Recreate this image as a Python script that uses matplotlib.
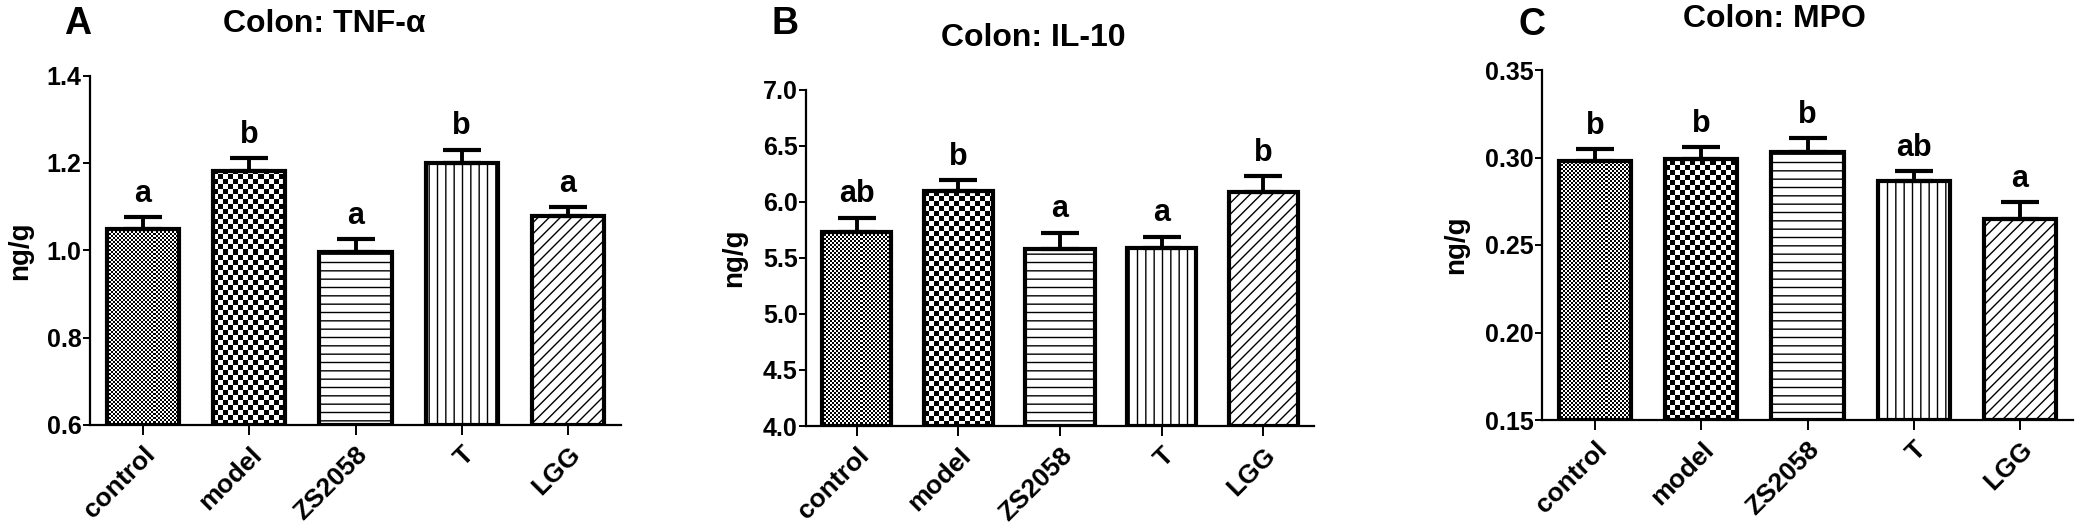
import numpy as np
import matplotlib
matplotlib.use('Agg')
from matplotlib import pyplot as plt

# groups and values
groups = ['control', 'model', 'ZS2058', 'T', 'LGG']

tnf_mean = [1.048, 1.182, 0.996, 1.200, 1.078]
tnf_sem = [0.027, 0.029, 0.029, 0.030, 0.021]
tnf_letters = ['a', 'b', 'a', 'b', 'a']
tnf_ticks = [0.6, 0.8, 1.0, 1.2, 1.4]

il10_mean = [5.729, 6.094, 5.582, 5.588, 6.082]
il10_sem = [0.128, 0.098, 0.143, 0.100, 0.146]
il10_letters = ['ab', 'b', 'a', 'a', 'b']
il10_ticks = [4.0, 4.5, 5.0, 5.5, 6.0, 6.5, 7.0]

mpo_mean = [0.2979, 0.2990, 0.3030, 0.2866, 0.2647]
mpo_sem = [0.0070, 0.0070, 0.0080, 0.0056, 0.0097]
mpo_letters = ['b', 'b', 'b', 'ab', 'a']
mpo_ticks = [0.15, 0.20, 0.25, 0.30, 0.35]

plt.rcParams['font.family'] = ['Liberation Sans', 'DejaVu Sans']
plt.rcParams['font.weight'] = 'bold'
plt.rcParams['hatch.linewidth'] = 1.0

W, H = 2076, 530
fig = plt.figure(figsize=(W / 100, H / 100), dpi=100)

# hatch per group; None means a checkerboard image (cell, dot size in px)
hatches = [None, None, '--', '||', '///']
checker = [(2, 2), (5, 5), None, None, None]


def checker_fill(ax, bar, cell, dot):
    x0, y0 = bar.get_x(), bar.get_y()
    x1, y1 = x0 + bar.get_width(), y0 + bar.get_height()
    (px0, py0), (px1, py1) = ax.transData.transform([(x0, y0), (x1, y1)])
    nx = int(np.ceil(px1 - px0)) + 2
    ny = int(np.ceil(py1 - py0)) + 2
    jj, ii = np.meshgrid(np.arange(nx), np.arange(ny))
    on = ((ii // cell + jj // cell) % 2 == 0) & (ii % cell < dot) & (jj % cell < dot)
    grid = np.where(on, 0, 1)
    ex, ey = ax.transData.inverted().transform((px0 + nx, py0 + ny))
    im = ax.imshow(grid, cmap='gray', vmin=0, vmax=1, extent=(x0, ex, y0, ey),
                   origin='lower', interpolation='nearest', aspect='auto', zorder=2)
    im.set_clip_path(bar)


def panel(rect, mean, sem, letters, ticks, fmt, title, tag, tag_xy, ylab_x, title_x):
    ax = fig.add_axes(rect)
    x = np.arange(len(groups))
    ax.set_xlim(-0.5, 4.5)
    ax.set_ylim(ticks[0], ticks[-1])
    bars = ax.bar(x, np.array(mean) - ticks[0], 0.68, bottom=ticks[0],
                  facecolor='white', edgecolor='black', linewidth=3.0, zorder=3)
    for b, h, c in zip(bars, hatches, checker):
        if h:
            b.set_hatch(h)
        else:
            b.set_facecolor('none')
            checker_fill(ax, b, *c)
    ax.errorbar(x, mean, yerr=[np.zeros(len(sem)), sem], fmt='none', ecolor='black',
                elinewidth=2.8, capsize=14, capthick=3.0, zorder=4)
    for xi, m, s, t in zip(x, mean, sem, letters):
        ax.annotate(t, (xi, m + s), xytext=(0, 6), textcoords='offset points',
                    ha='center', va='bottom', fontsize=22, fontweight='bold')
    ax.set_xlim(-0.5, 4.5)
    ax.set_ylim(ticks[0], ticks[-1])
    ax.set_yticks(ticks)
    ax.set_yticklabels([fmt % t for t in ticks])
    ax.set_xticks(x)
    ax.set_xticklabels(groups, rotation=45, ha='right', va='top',
                       rotation_mode='anchor')
    ax.tick_params(axis='y', length=5, width=1.4, pad=1, labelsize=18)
    ax.tick_params(axis='x', length=7.5, width=1.4, pad=5, labelsize=19)
    for side in ['top', 'right']:
        ax.spines[side].set_visible(False)
    for side in ['left', 'bottom']:
        ax.spines[side].set_linewidth(1.6)
    ax.set_ylabel('ng/g', fontsize=20, fontweight='bold', va='center')
    ax.yaxis.set_label_coords(ylab_x, 0.5)
    ax.annotate(title, xy=(title_x, 1), xycoords='axes fraction', xytext=(0, 37),
                textcoords='offset points', ha='center', va='center',
                fontsize=23, fontweight='bold')
    fig.text(tag_xy[0] / W, 1 - tag_xy[1] / H, tag, ha='center', va='center',
             fontsize=27, fontweight='bold')
    return ax


panel([90 / W, 1 - 425 / H, 531 / W, 349.5 / H], tnf_mean, tnf_sem, tnf_letters,
      tnf_ticks, '%.1f', 'Colon: TNF-α', 'A', (78, 24), -0.132, 0.441)
panel([806 / W, 1 - 426 / H, 508 / W, 336.5 / H], il10_mean, il10_sem, il10_letters,
      il10_ticks, '%.1f', 'Colon: IL-10', 'B', (785, 24), -0.142, 0.447)
panel([1542 / W, 1 - 420 / H, 531 / W, 350 / H], mpo_mean, mpo_sem, mpo_letters,
      mpo_ticks, '%.2f', 'Colon: MPO', 'C', (1532, 25), -0.162, 0.437)

fig.savefig('out.png', dpi=100)
